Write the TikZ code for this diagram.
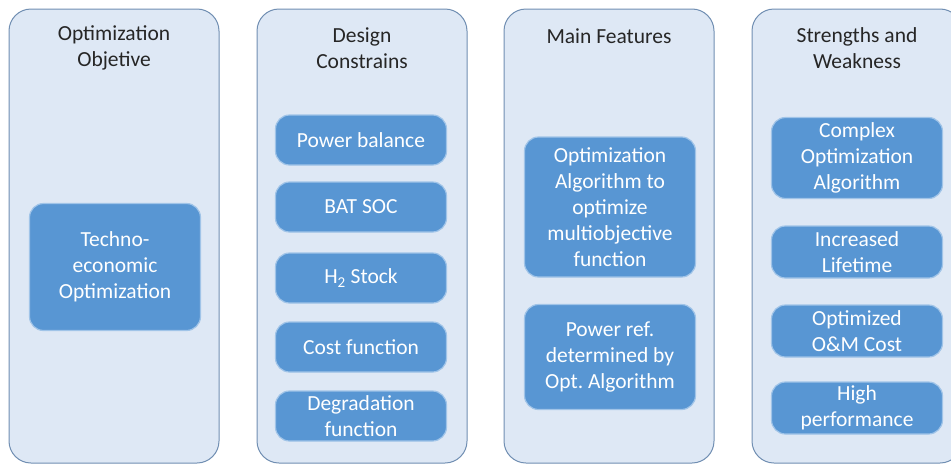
\documentclass[tikz,border=0pt]{standalone}
\usepackage{fontspec}
\setmainfont{Carlito}
\frenchspacing
\definecolor{panelfill}{RGB}{222,232,245}
\definecolor{panelline}{RGB}{112,142,178}
\definecolor{itemfill}{RGB}{88,150,211}
\definecolor{itemline}{RGB}{160,196,232}

\tikzstyle{panel}=[%
	draw = panelline,
	fill = panelfill,
	line width = 1pt,
	rounded corners = 22pt,
	minimum width = 210pt,
	minimum height = 454pt
]
\tikzstyle{head}=[%
	align = center,
	text = black!85,
	font = \fontsize{21.5}{26}\selectfont
]
\tikzstyle{item}=[%
	draw = itemline,
	fill = itemfill,
	line width = 1.2pt,
	rounded corners = 14pt,
	minimum width = 171pt,
	align = center,
	text = white,
	font = \fontsize{21.5}{26}\selectfont
]

\begin{document}
\begin{tikzpicture}[x=1pt, y=-1pt]
	\useasboundingbox (0,0) rectangle (951,466);

	% Panels
	\node[panel] (objpanel) at (114,236) {};
	\node[panel] (conpanel) at (362,236) {};
	\node[panel] (featpanel) at (609,236) {};
	\node[panel] (swpanel) at (857,236) {};

	% Headings
	\node[head] (objhead) at (114,48) {Optimization\\Objetive};
	\node[head] (conhead) at (362,48) {Design\\Constrains};
	\node[head] (feathead) at (609,36) {Main Features};
	\node[head] (swhead) at (857,48) {Strengths and\\Weakness};

	% Objective
	\node[item, minimum height=127pt] (obj1) at (115,267) {Techno-\\economic\\Optimization};

	% Constraints
	\foreach \i/\y/\txt in {1/140/Power balance, 2/207/BAT SOC, 3/278/H\textsubscript{2} Stock, 4/347/Cost function, 5/416/{Degradation\\function}} {
		\node[item, minimum height=50pt] (con\i) at (361,\y) {\txt};
	}

	% Features
	\node[item, minimum height=140pt] (feat1) at (610,207) {Optimization\\Algorithm to\\optimize\\multiobjective\\function};
	\node[item, minimum height=105pt] (feat2) at (610,357) {Power ref.\\determined by\\Opt. Algorithm};

	% Strengths and weakness
	\node[item, minimum height=81pt] (sw1) at (857,158) {Complex\\Optimization\\Algorithm};
	\foreach \i/\y/\txt in {2/252/{Increased\\Lifetime}, 3/331/{Optimized\\O\&M Cost}, 4/408/{High\\performance}} {
		\node[item, minimum height=52pt] (sw\i) at (857,\y) {\txt};
	}

\end{tikzpicture}
\end{document}
